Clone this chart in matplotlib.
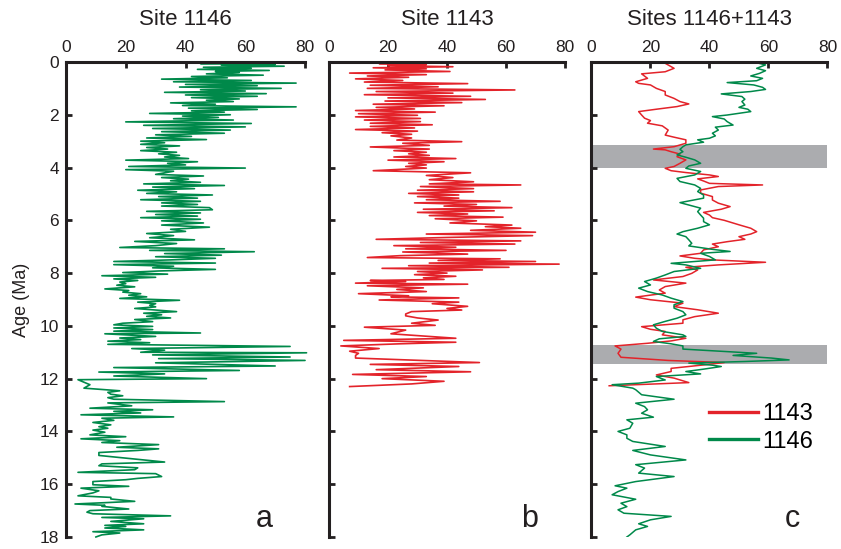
import matplotlib
matplotlib.use("Agg")
import matplotlib.pyplot as plt

plt.rcParams["font.family"] = ["Liberation Sans", "DejaVu Sans"]

# ---------------- Site 1146 (raw record) ----------------
age_1146 = [
    0.00, 0.03, 0.06, 0.09, 0.12, 0.16, 0.20, 0.24, 0.28, 0.32, 0.36, 0.40, 0.45, 0.50, 0.55,
    0.60, 0.65, 0.70, 0.75, 0.80, 0.85, 0.90, 0.95, 1.00, 1.05, 1.10, 1.15, 1.20, 1.25, 1.30,
    1.35, 1.40, 1.45, 1.50, 1.55, 1.60, 1.65, 1.70, 1.75, 1.80, 1.85, 1.90, 1.95, 2.00, 2.05,
    2.10, 2.15, 2.20, 2.27, 2.33, 2.40, 2.46, 2.52, 2.58, 2.64, 2.70, 2.76, 2.82, 2.88, 2.94,
    3.00, 3.06, 3.12, 3.18, 3.24, 3.30, 3.36, 3.42, 3.48, 3.54, 3.60, 3.66, 3.72, 3.78, 3.84,
    3.90, 3.96, 4.02, 4.08, 4.14, 4.20, 4.26, 4.32, 4.38, 4.44, 4.50, 4.56, 4.62, 4.68, 4.74,
    4.80, 4.86, 4.92, 4.98, 5.04, 5.10, 5.16, 5.22, 5.28, 5.34, 5.40, 5.46, 5.52, 5.60, 5.66,
    5.72, 5.78, 5.84, 5.90, 5.96, 6.02, 6.10, 6.18, 6.26, 6.34, 6.42, 6.50, 6.58, 6.66, 6.74,
    6.80, 6.88, 6.96, 7.03, 7.08, 7.14, 7.19, 7.26, 7.32, 7.38, 7.44, 7.50, 7.56, 7.62, 7.68,
    7.74, 7.80, 7.86, 7.92, 7.98, 8.04, 8.10, 8.16, 8.22, 8.28, 8.34, 8.40, 8.46, 8.52, 8.60,
    8.66, 8.72, 8.78, 8.84, 8.90, 8.96, 9.03, 9.10, 9.16, 9.22, 9.28, 9.34, 9.40, 9.46, 9.52,
    9.58, 9.64, 9.70, 9.76, 9.84, 9.90, 9.96, 10.02, 10.08, 10.14, 10.20, 10.27, 10.30, 10.40, 10.46,
    10.52, 10.58, 10.64, 10.70, 10.78, 10.86, 10.92, 11.00, 11.02, 11.10, 11.18, 11.24, 11.31, 11.40, 11.52,
    11.58, 11.69, 11.75, 11.82, 11.90, 12.00, 12.04, 12.23, 12.36, 12.46, 12.52, 12.59, 12.65, 12.72, 12.78,
    12.87, 12.92, 13.03, 13.12, 13.18, 13.24, 13.30, 13.37, 13.45, 13.50, 13.58, 13.66, 13.75, 13.82, 13.88,
    13.95, 14.03, 14.13, 14.20, 14.28, 14.35, 14.42, 14.50, 14.60, 14.66, 14.72, 14.80, 14.91, 15.16, 15.23,
    15.30, 15.38, 15.45, 15.55, 15.60, 15.71, 15.78, 15.83, 15.90, 16.02, 16.08, 16.15, 16.25, 16.33, 16.44,
    16.50, 16.56, 16.65, 16.75, 16.80, 16.84, 16.94, 17.00, 17.06, 17.12, 17.20, 17.26, 17.31, 17.41, 17.50,
    17.56, 17.60, 17.66, 17.73, 17.80, 17.85, 17.92, 18.00,
]
val_1146 = [
    55, 64, 45, 70, 52, 73, 46, 62, 44, 68, 50, 58, 47, 66, 42,
    54, 32, 62, 36, 77, 40, 64, 38, 72, 45, 60, 33, 67, 40, 64,
    42, 58, 47, 56, 35, 50, 39, 77, 41, 64, 42, 53, 28, 55, 39,
    51, 36, 56, 20, 62, 26, 60, 29, 55, 32, 53, 30, 42, 27, 47,
    25, 33, 25, 38, 27, 34, 25, 37, 31, 38, 33, 41, 20, 44, 34,
    40, 21, 60, 20, 36, 33, 30, 46, 32, 41, 35, 45, 26, 53, 29,
    43, 24, 37, 27, 49, 31, 44, 25, 45, 32, 44, 32, 48, 49, 27,
    45, 30, 44, 25, 45, 32, 46, 32, 48, 35, 40, 27, 36, 28, 43,
    23, 37, 30, 18, 53, 28, 63, 33, 52, 30, 50, 35, 16, 50, 16,
    36, 29, 50, 31, 19, 34, 12, 30, 16, 24, 18, 20, 17, 23, 13,
    21, 19, 25, 21, 27, 18, 38, 24, 30, 28, 30, 23, 30, 37, 26,
    32, 27, 35, 23, 29, 19, 16, 29, 16, 29, 16, 45, 13, 30, 18,
    25, 14, 28, 14, 75, 22, 33, 25, 80.5, 29, 75, 31, 80, 30, 70,
    16, 58, 11, 33, 16, 47, 4, 8, 6, 18, 14, 15, 19, 14, 16,
    53, 14, 22, 8, 29, 16, 25, 5, 36, 12, 16, 9, 15, 11, 14,
    9, 13, 8, 20, 5, 18, 12, 31, 17, 31, 24, 11, 11, 33, 12,
    11, 24, 23, 4, 30, 32, 24, 20, 9, 9, 21, 5, 11, 9, 4,
    15, 15, 23, 3, 13, 12, 21, 8, 7, 9, 35, 12, 26, 15, 26,
    13, 20, 13, 26, 9, 18, 12, 10,
]

# ---------------- Site 1143 (raw record) ----------------
age_1143 = [
    0.00, 0.03, 0.06, 0.10, 0.14, 0.18, 0.22, 0.26, 0.30, 0.36, 0.42, 0.48, 0.53, 0.58, 0.64,
    0.70, 0.76, 0.82, 0.88, 0.94, 1.00, 1.06, 1.12, 1.18, 1.24, 1.30, 1.36, 1.42, 1.48, 1.54,
    1.60, 1.66, 1.72, 1.78, 1.84, 1.90, 1.96, 2.02, 2.08, 2.14, 2.20, 2.26, 2.32, 2.38, 2.44,
    2.50, 2.56, 2.62, 2.68, 2.74, 2.80, 2.88, 2.96, 3.02, 3.08, 3.16, 3.22, 3.30, 3.36, 3.42,
    3.48, 3.54, 3.60, 3.66, 3.72, 3.78, 3.84, 3.90, 3.96, 4.02, 4.12, 4.20, 4.30, 4.38, 4.46,
    4.54, 4.62, 4.66, 4.72, 4.80, 4.86, 4.92, 4.98, 5.04, 5.10, 5.16, 5.22, 5.28, 5.34, 5.40,
    5.46, 5.52, 5.58, 5.64, 5.70, 5.76, 5.82, 5.88, 5.94, 6.02, 6.10, 6.18, 6.24, 6.30, 6.38,
    6.45, 6.52, 6.58, 6.65, 6.72, 6.78, 6.84, 6.90, 6.96, 7.02, 7.08, 7.14, 7.20, 7.28, 7.34,
    7.41, 7.46, 7.52, 7.56, 7.62, 7.66, 7.72, 7.78, 7.82, 7.88, 7.94, 8.00, 8.06, 8.12, 8.18,
    8.24, 8.28, 8.32, 8.38, 8.42, 8.48, 8.56, 8.62, 8.70, 8.78, 8.86, 8.90, 8.94, 9.02, 9.10,
    9.16, 9.26, 9.34, 9.40, 9.46, 9.55, 9.62, 9.70, 9.78, 9.90, 9.98, 10.05, 10.16, 10.30, 10.47,
    10.55, 10.62, 10.68, 10.76, 10.86, 10.96, 11.04, 11.12, 11.22, 11.39, 11.46, 11.54, 11.66, 11.74, 11.84,
    11.92, 12.00, 12.10, 12.20, 12.30,
]
val_1143 = [
    23, 38, 17, 33, 20, 42, 15, 33, 19, 41, 7, 33, 13, 27, 9,
    25, 12, 47, 14, 37, 13, 63, 16, 42, 12, 48, 20, 53, 19, 45,
    15, 39, 16, 29, 9, 36, 10, 30, 9, 31, 12, 31, 14, 35, 14,
    29, 9, 30, 18, 28, 21, 28, 23, 45, 25, 34, 14, 34, 22, 33,
    27, 34, 22, 43, 20, 39, 27, 33, 26, 33, 15, 48, 33, 42, 34,
    49, 34, 65, 31, 49, 30, 49, 27, 44, 30, 44, 33, 58, 29, 50,
    39, 62, 32, 56, 30, 47, 34, 59, 36, 50, 41, 62, 53, 65, 48,
    70, 33, 69, 40, 16, 65, 31, 63, 22, 43, 26, 60, 25, 47, 24,
    13, 58, 37, 70, 34, 78, 27, 61, 18, 52, 30, 40, 29, 43, 32,
    39, 14, 26, 9, 47, 13, 32, 23, 33, 10, 27, 21, 44, 17, 44,
    35, 47, 40, 45, 28, 26, 26, 30, 37, 28, 36, 12, 26, 21, 43,
    5, 43, 24, 4, 17, 7, 10, 9, 9, 51, 14, 44, 16, 48, 8,
    33, 18, 39, 28, 7,
]

# ---------------- Smoothed records, Sites 1146 + 1143 ----------------
age_1143_s = [
    0.00, 0.05, 0.24, 0.37, 0.45, 0.62, 0.75, 0.81, 0.87, 1.00, 1.12, 1.25, 1.38, 1.50, 1.59,
    1.69, 1.79, 1.88, 2.01, 2.13, 2.22, 2.32, 2.42, 2.58, 2.77, 2.85, 2.95, 3.08, 3.21, 3.30,
    3.33, 3.40, 3.49, 3.59, 3.71, 3.84, 3.96, 4.03, 4.12, 4.19, 4.28, 4.34, 4.43, 4.51, 4.60,
    4.66, 4.72, 4.85, 4.97, 5.10, 5.23, 5.35, 5.48, 5.58, 5.70, 5.80, 5.90, 6.00, 6.17, 6.30,
    6.43, 6.52, 6.62, 6.72, 6.81, 6.90, 7.00, 7.12, 7.25, 7.35, 7.44, 7.50, 7.59, 7.69, 7.78,
    7.88, 8.01, 8.13, 8.26, 8.38, 8.51, 8.64, 8.76, 8.91, 9.01, 9.14, 9.27, 9.39, 9.52, 9.65,
    9.77, 9.90, 10.03, 10.13, 10.21, 10.34, 10.47, 10.57, 10.66, 10.76, 10.88, 11.04, 11.19, 11.31, 11.39,
    11.48, 11.61, 11.73, 11.86, 11.98, 12.15, 12.27,
]
smooth_1143 = [
    31, 25, 28, 25, 17, 19, 15, 16, 20, 22, 25, 25, 28, 30, 33,
    29, 22, 16, 17, 18, 20, 19, 24, 26, 25, 28, 32, 32, 28, 21,
    25, 27, 30, 29, 32, 30, 28, 25, 27, 32, 40, 43, 36, 38, 40,
    58, 43, 37, 37, 41, 41, 43, 47, 44, 38, 40, 41, 45, 50, 54,
    56, 54, 50, 52, 46, 41, 43, 38, 37, 30, 35, 41, 59, 43, 32,
    36, 34, 31, 21, 32, 25, 23, 25, 15, 20, 31, 28, 36, 43, 35,
    31, 31, 17, 20, 25, 24, 32, 27, 19, 8, 10, 9, 10, 26, 45,
    38, 27, 27, 22, 28, 33, 6,
]

age_1146_s = [
    0.03, 0.11, 0.24, 0.33, 0.43, 0.53, 0.62, 0.71, 0.78, 0.87, 0.96, 1.04, 1.12, 1.21, 1.31,
    1.41, 1.50, 1.63, 1.72, 1.79, 1.88, 2.01, 2.07, 2.16, 2.26, 2.39, 2.47, 2.58, 2.70, 2.80,
    2.89, 2.95, 3.04, 3.14, 3.21, 3.31, 3.40, 3.52, 3.61, 3.71, 3.84, 3.94, 4.03, 4.15, 4.28,
    4.41, 4.53, 4.66, 4.79, 4.91, 5.04, 5.16, 5.33, 5.42, 5.54, 5.67, 5.80, 5.92, 6.05, 6.17,
    6.30, 6.43, 6.52, 6.62, 6.74, 6.87, 6.97, 7.10, 7.18, 7.25, 7.37, 7.50, 7.63, 7.69, 7.82,
    7.94, 8.07, 8.19, 8.32, 8.45, 8.57, 8.70, 8.83, 8.95, 9.08, 9.20, 9.33, 9.46, 9.58, 9.71,
    9.83, 9.96, 10.09, 10.21, 10.34, 10.40, 10.49, 10.59, 10.68, 10.76, 10.88, 10.97, 11.04, 11.12, 11.22,
    11.29, 11.35, 11.41, 11.49, 11.54, 11.64, 11.73, 11.82, 11.92, 12.05, 12.17, 12.23, 12.36, 12.42, 12.61,
    12.78, 12.93, 13.06, 13.18, 13.31, 13.46, 13.56, 13.69, 13.88, 14.00, 14.13, 14.26, 14.38, 14.57, 14.72,
    14.89, 15.08, 15.26, 15.39, 15.58, 15.71, 15.90, 16.06, 16.15, 16.28, 16.40, 16.57, 16.72, 16.85, 16.97,
    17.10, 17.22, 17.35, 17.50, 17.60, 17.73, 17.92, 18.00,
]
smooth_1146 = [
    56, 59, 56, 59, 57, 54, 58, 56, 46, 55, 58, 59, 54, 44, 51,
    52, 51, 52, 50, 53, 54, 46, 41, 45, 46, 48, 42, 43, 41, 42,
    40, 36, 38, 32, 31, 30, 31, 29, 32, 35, 37, 33, 32, 37, 35,
    29, 30, 35, 37, 36, 38, 38, 30, 33, 37, 36, 37, 38, 38, 40,
    36, 31, 29, 32, 33, 34, 33, 41, 47, 37, 40, 42, 27, 32, 37,
    28, 25, 22, 18, 20, 16, 19, 24, 27, 31, 28, 28, 31, 32, 29,
    25, 21, 22, 24, 31, 32, 23, 21, 27, 31, 31, 45, 56, 48, 61,
    67, 52, 33, 41, 44, 38, 32, 37, 22, 25, 16, 7, 14, 15, 17,
    28, 15, 18, 19, 17, 21, 12, 14, 13, 9, 12, 12, 14, 25, 14,
    20, 32, 15, 18, 16, 28, 15, 8, 12, 9, 7, 15, 10, 12, 9,
    11, 27, 20, 16, 19, 15, 13, 12,
]

# Shaded intervals (Ma) in the combined panel
bands = [(3.15, 4.0), (10.72, 11.44)]

titles = ["Site 1146", "Site 1143", "Sites 1146+1143"]
panel_letters = ["a", "b", "c"]
x_ticks = [0, 20, 40, 60, 80]
y_ticks = [0, 2, 4, 6, 8, 10, 12, 14, 16, 18]

GREEN = "#00894a"
RED = "#e3232a"
BAND = "#abacaf"
INK = "#231f20"

fig = plt.figure(figsize=(8.41, 5.49), dpi=100)
lefts = [0.0785, 0.3912, 0.7033]
widths = [0.2842, 0.2806, 0.2806]
bottom, height = 0.0219, 0.8652
axes = [fig.add_axes([l, bottom, w, height]) for l, w in zip(lefts, widths)]

for i, ax in enumerate(axes):
    ax.set_xlim(0, 80)
    ax.set_ylim(18, 0)
    ax.xaxis.tick_top()
    ax.set_xticks(x_ticks)
    ax.set_yticks(y_ticks)
    for side in ("right", "bottom"):
        ax.spines[side].set_visible(False)
    for side in ("left", "top"):
        ax.spines[side].set_linewidth(2.2)
        ax.spines[side].set_color(INK)
    ax.tick_params(axis="both", direction="in", length=4, width=2, color=INK,
                   labelsize=12.5, labelcolor=INK, pad=5)
    if i > 0:
        ax.tick_params(axis="y", labelleft=False)
    ax.set_title(titles[i], fontsize=16, color=INK, pad=11)
    ax.text(0.83 if i == 0 else 0.85, 0.038, panel_letters[i], transform=ax.transAxes,
            fontsize=22, color=INK, ha="center", va="center")

axes[0].set_ylabel("Age (Ma)", fontsize=13, color=INK, labelpad=7)

axes[0].plot(val_1146, age_1146, color=GREEN, lw=1.2, clip_on=False)
axes[1].plot(val_1143, age_1143, color=RED, lw=1.2, clip_on=False)

axc = axes[2]
for lo, hi in bands:
    axc.axhspan(lo, hi, color=BAND, lw=0, zorder=0.5)
axc.plot(smooth_1143, age_1143_s, color=RED, lw=1.1, label="1143")
axc.plot(smooth_1146, age_1146_s, color=GREEN, lw=1.1, label="1146")
axc.legend(loc="upper left", bbox_to_anchor=(0.497, 0.282), frameon=False,
           fontsize=17, handlelength=2.1, handletextpad=0.18, labelspacing=0.24,
           borderpad=0, borderaxespad=0)
for line in axc.get_legend().get_lines():
    line.set_linewidth(2.4)

fig.savefig("out.png", dpi=100)
